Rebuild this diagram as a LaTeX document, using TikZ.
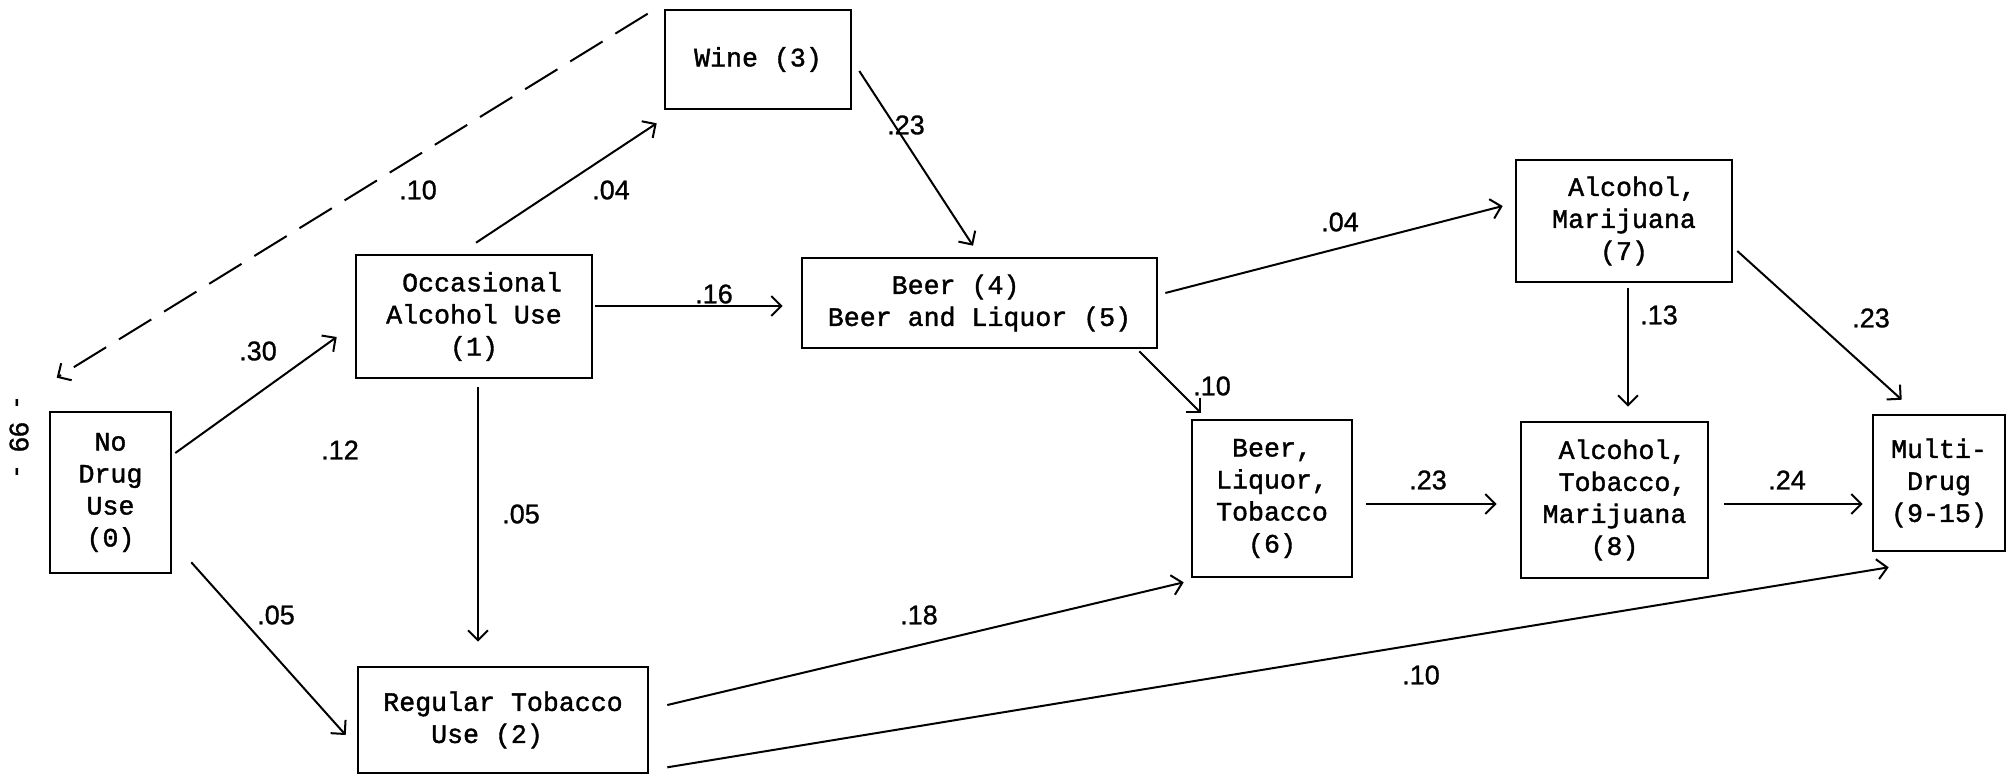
\documentclass[tikz,border=0pt]{standalone}
\usepackage{fontspec}
\newfontfamily\boxfont[FakeBold=1.4]{Liberation Mono}
\newfontfamily\labelfont[FakeBold=1]{Liberation Sans}
\usetikzlibrary{arrows.meta}
\begin{document}
\begin{tikzpicture}[x=0.5pt,y=-0.5pt,
  box/.style={draw,line width=1.3pt,inner sep=0pt,align=center,
    font=\fontsize{13.3}{16}\selectfont\boxfont},
  conn/.style={line width=1pt,-{Straight Barb[length=5pt,width=10pt,line width=1pt]}},
  dashconn/.style={conn,dash pattern=on 19pt off 7.5pt},
  lbl/.style={font=\fontsize{13.5}{15}\selectfont\labelfont,inner sep=0pt}]
\useasboundingbox (0,0) rectangle (2016,778);
% boxes
\node[box,minimum width=60.5pt,minimum height=80.5pt] (n0) at (110.5,492.5) {No\\Drug\\Use\\(0)};
\node[box,minimum width=118pt,minimum height=61.5pt] (n1) at (474,316.5) {\hphantom{x}Occasional\\Alcohol Use\\(1)};
\node[box,minimum width=145pt,minimum height=53pt,align=left] (n2) at (503,720) {Regular Tobacco\\\hphantom{xxx}Use (2)};
\node[box,minimum width=93pt,minimum height=49.5pt] (n3) at (758,59.5) {Wine (3)};
\node[box,minimum width=177.5pt,minimum height=45pt,align=left] (n4) at (979.5,303) {\hphantom{xxxx}Beer (4)\\Beer and Liquor (5)};
\node[box,minimum width=80pt,minimum height=78.5pt] (n6) at (1272,498.5) {Beer,\\Liquor,\\Tobacco\\(6)};
\node[box,minimum width=108pt,minimum height=61pt] (n7) at (1624,221) {\hphantom{x}Alcohol,\\Marijuana\\(7)};
\node[box,minimum width=93.5pt,minimum height=78pt] (n8) at (1614.5,500) {\hphantom{x}Alcohol,\\\hphantom{x}Tobacco,\\Marijuana\\(8)};
\node[box,minimum width=66pt,minimum height=68pt] (n9) at (1939,483) {Multi-\\Drug\\(9-15)};
% page number
\node[lbl,rotate=-90] (pg) at (19,437) {-\ \ 99\ \ -};
% connectors
\draw[conn] ([shift={(3,-39.5)}]n0.east) -- ([shift={(-18,20.5)}]n1.west);
\draw[conn] ([shift={(19,-12)}]n0.south east) -- ([shift={(-11,15)}]n2.west);
\draw[conn] ([shift={(4,8)}]n1.south) -- ([shift={(-25,-24)}]n2.north);
\draw[conn] ([shift={(2,-11)}]n1.north) -- ([shift={(-7,13)}]n3.south west);
\draw[dashconn] ([shift={(-16,5)}]n3.north west) -- ([shift={(8,-33)}]n0.north west);
\draw[conn] ([shift={(2,-10.5)}]n1.east) -- ([shift={(-18,3)}]n4.west);
\draw[conn] ([shift={(7,11.5)}]n3.east) -- ([shift={(-6.5,-11)}]n4.north);
\draw[conn] ([shift={(7,-10)}]n4.east) -- ([shift={(-12,-15)}]n7.west);
\draw[conn] ([shift={(-19,2)}]n4.south east) -- ([shift={(10,-6)}]n6.north west);
\draw[conn] ([shift={(4,5)}]n7.south) -- ([shift={(13.5,-14)}]n8.north);
\draw[conn] ([shift={(4,30)}]n7.east) -- ([shift={(30,-14)}]n9.north west);
\draw[conn] ([shift={(13,5.5)}]n6.east) -- ([shift={(-23,4)}]n8.west);
\draw[conn] ([shift={(15,4)}]n8.east) -- ([shift={(-9,21)}]n9.west);
\draw[conn] ([shift={(18,-15)}]n2.east) -- ([shift={(-7,4)}]n6.south west);
\draw[conn] ([shift={(18,-7)}]n2.south east) -- ([shift={(17,15)}]n9.south west);
% labels
\node[lbl] (l01) at (258,351) {.30};
\node[lbl] (l12x) at (340,450) {.12};
\node[lbl] (l02) at (276,615) {.05};
\node[lbl] (l12) at (521,514) {.05};
\node[lbl] (l13) at (611,190) {.04};
\node[lbl] (l30) at (418,190) {.10};
\node[lbl] (l14) at (714,294) {.16};
\node[lbl] (l34) at (906,125) {.23};
\node[lbl] (l47) at (1340,222) {.04};
\node[lbl] (l46) at (1212,386) {.10};
\node[lbl] (l78) at (1659,315) {.13};
\node[lbl] (l79) at (1871,318) {.23};
\node[lbl] (l68) at (1428,480) {.23};
\node[lbl] (l89) at (1787,480) {.24};
\node[lbl] (l26) at (919,615) {.18};
\node[lbl] (l29) at (1421,675) {.10};
\end{tikzpicture}
\end{document}
